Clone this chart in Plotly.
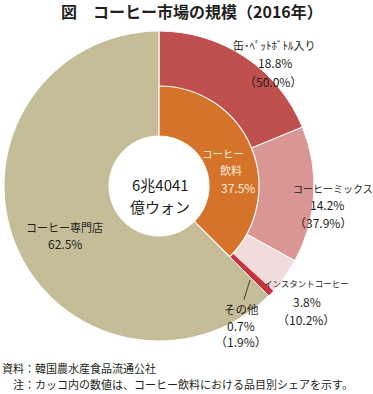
import plotly.graph_objects as go

# ---------------- data ----------------
title_text = "図　コーヒー市場の規模（2016年）"
total_lines = ["6兆4041", "億ウォン"]

outer_labels = ["缶･ﾍﾟｯﾄﾎﾞﾄﾙ入り", "コーヒーミックス", "インスタントコーヒー", "その他", "コーヒー専門店"]
outer_values = [18.8, 14.2, 3.8, 0.7, 62.5]
beverage_share = [50.0, 37.9, 10.2, 1.9]

inner_labels = ["コーヒー飲料", "コーヒー専門店"]
inner_values = [37.5, 62.5]

source_text = "資料：韓国農水産食品流通公社"
note_text = "　注：カッコ内の数値は、コーヒー飲料における品目別シェアを示す。"

# ---------------- styles ----------------
W, H = 373, 394
FONT = "Noto Sans CJK JP"
TXT = "#231f20"
outer_colors = ["#C0504D", "#D99694", "#F2DCDB", "#C8323C", "#C4BD97"]
inner_colors = ["#D5732B", "rgba(0,0,0,0)"]

def px(x, y):
    return x / W, 1 - y / H

cx, cy, R_out, R_mid, R_hole = 159, 186, 155, 100, 50

fig = go.Figure()
fig.add_trace(go.Pie(
    labels=outer_labels, values=outer_values, sort=False, direction="clockwise",
    rotation=0, hole=R_hole / R_out, textinfo="none", hoverinfo="label+percent",
    marker=dict(colors=outer_colors, line=dict(color="white", width=[1, 1, 1, 0, 1])),
    domain=dict(x=[(cx - R_out) / W, (cx + R_out) / W],
                y=[1 - (cy + R_out) / H, 1 - (cy - R_out) / H]),
    showlegend=False,
))
fig.add_trace(go.Pie(
    labels=inner_labels, values=inner_values, sort=False, direction="clockwise",
    rotation=0, hole=R_hole / R_mid, textinfo="none", hoverinfo="label+percent",
    marker=dict(colors=inner_colors, line=dict(color="white", width=[1.2, 0])),
    domain=dict(x=[(cx - R_mid) / W, (cx + R_mid) / W],
                y=[1 - (cy + R_mid) / H, 1 - (cy - R_mid) / H]),
    showlegend=False,
))

anns = []

def add_text(text, x, y, size=11, color=TXT, align="center", xanchor="center"):
    ax_, ay_ = px(x, y)
    anns.append(dict(text=text, x=ax_, y=ay_, xref="paper", yref="paper",
                     showarrow=False, align=align, xanchor=xanchor, yanchor="middle",
                     font=dict(family=FONT, size=size, color=color)))

def pct(v):
    return f"{v:.1f}%"

NAME_SIZE = [11, 10, 8.5]
NUM = 12
# outer segment labels: (name, value, share) line positions
outer_pos = [[(274, 45), (275, 63), (273, 81)],
             [(333, 188), (327, 205), (323, 222)],
             [(306, 283), (307, 301), (306, 319)]]
for i, pos in enumerate(outer_pos):
    add_text(outer_labels[i], *pos[0], size=NAME_SIZE[i])
    add_text(pct(outer_values[i]), *pos[1], size=NUM)
    add_text(f"（{pct(beverage_share[i])}）", *pos[2], size=NUM)

# その他 with leader line
tip_x, tip_y = 250, 280
lx, ly = 241, 309
tx, ty = px(tip_x, tip_y)
anns.append(dict(text=outer_labels[3], x=tx, y=ty, xref="paper", yref="paper",
                 showarrow=True, arrowhead=0, arrowwidth=0.8, arrowcolor=TXT,
                 ax=lx - tip_x, ay=ly - tip_y, standoff=0,
                 font=dict(family=FONT, size=11.5, color=TXT)))
add_text(pct(outer_values[3]), 241, 325, size=NUM)
add_text(f"（{pct(beverage_share[3])}）", 241, 341, size=NUM)

# coffee shop
add_text(inner_labels[1], 64, 227, size=11)
add_text(pct(inner_values[1]), 65, 243, size=NUM)
# coffee beverages (inner)
BEV = "#FCEBD6"
add_text(inner_labels[0][:4], 223, 153, size=10.5, color=BEV)
add_text(inner_labels[0][4:], 231, 170, size=11, color=BEV)
add_text(pct(inner_values[0]), 238, 187, size=NUM, color=BEV)
# center total
add_text(total_lines[0], 160, 184, size=15)
add_text(total_lines[1], 160, 206, size=15)

# title
add_text(f"<b>{title_text}</b>", 192, 11, size=16)
# footnotes
add_text(source_text, 0, 368, size=11, align="left", xanchor="left")
add_text(note_text, 0, 384, size=11, align="left", xanchor="left")

fig.update_layout(
    width=W, height=H, margin=dict(l=0, r=0, t=0, b=0),
    paper_bgcolor="white", plot_bgcolor="white",
    annotations=anns, showlegend=False,
)
fig.write_html("out.html", config={"displayModeBar": False},
               post_script="document.body.style.margin='0';")
